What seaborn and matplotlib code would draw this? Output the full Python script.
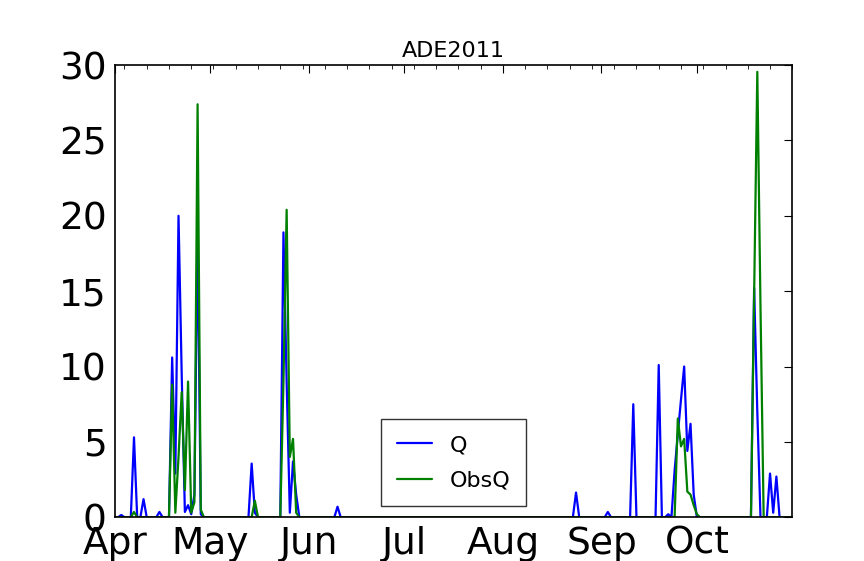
import pandas as pd
import numpy as np
import matplotlib
matplotlib.use("Agg")
import matplotlib.pyplot as plt
import matplotlib.dates as mdates
import seaborn as sns

sns.set_style("white")
plt.rcParams['font.family'] = ['DejaVu Sans']

# daily series Apr 1 - Oct 31 2011, zero except the days listed (day 0 = Apr 1)
q_days = [2, 6, 9, 14, 18, 19, 20, 21, 22, 23, 24, 25, 26, 27, 43, 44,
          53, 54, 55, 56, 57, 70, 145, 155, 163, 171, 174,
          176, 177, 178, 179, 180, 181, 182, 201, 202, 206, 207, 208]
q_vals = [0.15, 5.3, 1.2, 0.35, 10.6, 2.9, 20.0, 9.5, 0.35, 0.8, 0.2, 1.5, 19.0, 0.2, 3.56, 0.3,
          18.9, 9.0, 0.3, 3.7, 1.5, 0.7, 1.64, 0.35, 7.5, 10.1, 0.2,
          3.1, 5.5, 7.8, 10.0, 4.4, 6.2, 1.5, 15.2, 7.0, 2.9, 0.3, 2.7]

obs_days = [6, 18, 19, 20, 21, 22, 23, 24, 25, 26, 27, 44,
            53, 54, 55, 56, 57, 177, 178, 179, 180, 181, 182, 183,
            201, 202, 203]
obs_vals = [0.35, 8.8, 0.3, 4.0, 8.3, 1.8, 9.0, 0.3, 1.0, 27.4, 0.5, 1.1,
            9.0, 20.4, 4.0, 5.2, 0.3, 6.55, 4.7, 5.2, 1.7, 1.5, 0.8, 0.2,
            14.8, 29.55, 14.0]

dates = pd.date_range("2011-04-01", "2011-10-31", freq="D")
q = np.zeros(len(dates))
q[q_days] = q_vals
obs = np.zeros(len(dates))
obs[obs_days] = obs_vals

df = pd.DataFrame({"date": dates, "Q": q, "ObsQ": obs})

fig = plt.figure(figsize=(8.64, 5.61), dpi=100)
ax = fig.add_axes([0.133, 0.078, 0.784, 0.806])

sns.lineplot(data=df, x="date", y="Q", color="b", lw=1.6, label="Q", ax=ax)
sns.lineplot(data=df, x="date", y="ObsQ", color="g", lw=1.6, label="ObsQ", ax=ax)

ax.set_xlim(dates[0], dates[-1])
ax.set_ylim(0, 30)
ax.set_yticks([0, 5, 10, 15, 20, 25, 30])
ax.xaxis.set_major_locator(mdates.MonthLocator())
ax.xaxis.set_major_formatter(mdates.DateFormatter("%b"))
ax.xaxis.set_minor_locator(mdates.WeekdayLocator(byweekday=mdates.MO))
ax.set_xlabel("")
ax.set_ylabel("")
ax.set_title("ADE2011", fontsize=16, pad=6, color="black")

for s in ax.spines.values():
    s.set_color("black")
    s.set_linewidth(1.2)
ax.tick_params(which="both", direction="in", top=True, right=True, color="black")
ax.tick_params(which="major", length=6, width=0.8, labelsize=27, pad=6,
               labelcolor="black")
ax.tick_params(which="minor", length=3, width=0.6)

leg = ax.legend(loc="lower center", fontsize=16, frameon=True, fancybox=False,
                handlelength=1.6, borderpad=0.7, labelspacing=0.7,
                bbox_to_anchor=(0.5, 0.0))
leg.get_frame().set_edgecolor("black")
leg.get_frame().set_linewidth(1.0)
for t in leg.get_texts():
    t.set_color("black")

fig.savefig("out.png", dpi=100, facecolor="white")
